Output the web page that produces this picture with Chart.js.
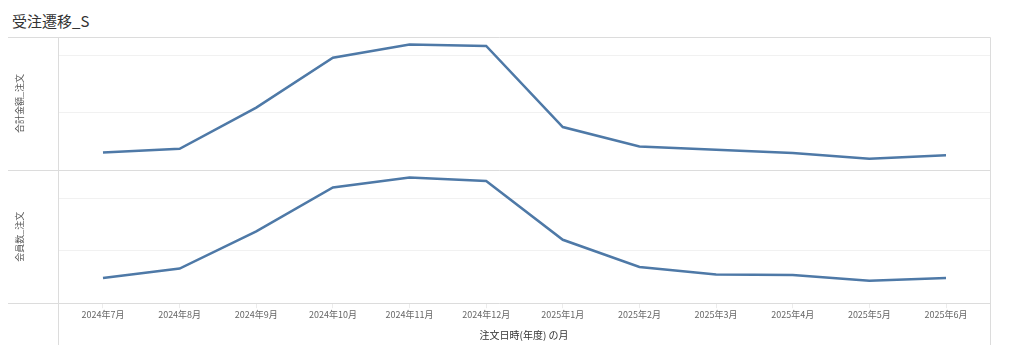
<!DOCTYPE html>
<html>
<head>
<meta charset="utf-8">
<script src="https://cdn.jsdelivr.net/npm/chart.js@4.4.1/dist/chart.umd.min.js"></script>
<style>
    body { margin: 0; background: #fff; }
    #wrap { position: relative; width: 1024px; height: 353px; }
    #title {
        position: absolute; left: 12px; top: 10px;
        font-family: "Noto Sans CJK JP", "Noto Sans", sans-serif;
        font-size: 15px; color: #333;
    }
    canvas { position: absolute; left: 0; top: 0; }
</style>
</head>
<body>
<div id="wrap">
    <div id="title">受注遷移_S</div>
    <canvas id="chart" width="1024" height="353"></canvas>
</div>
<script>
const months = ['2024年7月', '2024年8月', '2024年9月', '2024年10月', '2024年11月', '2024年12月',
    '2025年1月', '2025年2月', '2025年3月', '2025年4月', '2025年5月', '2025年6月'];
const salesTotal = [305, 370, 1090, 1960, 2190, 2165, 750, 410, 355, 300, 200, 260];
const memberCount = [48, 66, 137, 221, 240, 233, 121, 69, 55, 54, 43, 48];
const salesTicks = [0, 1000, 2000];
const countTicks = [0, 100, 200];

const FONT = '"Noto Sans CJK JP", "Noto Sans", sans-serif';
const LINE = '#4e79a7';
const FRAME = '#dcdcdc';
const GRID = '#f1f1f1';

// frame lines of the panels (row header lines run out to the left edge)
const framePlugin = {
    id: 'frame',
    beforeDatasetsDraw(chart) {
        const {ctx, chartArea} = chart;
        const mid = Math.round(chart.scales.ySales.bottom) + 0.5;
        const top = Math.round(chartArea.top) + 0.5;
        const bottom = Math.round(chartArea.bottom) + 0.5;
        const left = Math.round(chartArea.left) + 0.5;
        const right = Math.round(chartArea.right) + 0.5;
        ctx.save();
        ctx.strokeStyle = FRAME;
        ctx.lineWidth = 1;
        ctx.beginPath();
        [top, mid, bottom].forEach(y => {
            ctx.moveTo(8, y);
            ctx.lineTo(right, y);
        });
        ctx.moveTo(left, top);
        ctx.lineTo(left, 345);
        ctx.moveTo(right, top);
        ctx.lineTo(right, 345);
        ctx.stroke();
        ctx.restore();
    }
};

function points(values) {
    return values.map((v, i) => ({x: i, y: v}));
}

function yAxis(title, max, ticks, weight) {
    return {
        type: 'linear',
        position: 'left',
        stack: 'panels',
        weight: weight,
        min: 0,
        max: max,
        afterBuildTicks: axis => { axis.ticks = ticks.map(v => ({value: v})); },
        ticks: {display: false},
        border: {display: false},
        grid: {
            drawTicks: false,
            color: c => c.tick.value === 0 ? 'transparent' : GRID
        },
        title: {
            display: true,
            text: title,
            color: '#555',
            font: {family: FONT, size: 9},
            padding: {top: 14.6, bottom: 32.6}
        }
    };
}

new Chart(document.getElementById('chart'), {
    type: 'line',
    data: {
        datasets: [{
            label: '合計金額_注文',
            data: points(salesTotal),
            yAxisID: 'ySales',
            borderColor: LINE,
            borderWidth: 2.5,
            pointRadius: 0,
            tension: 0
        }, {
            label: '会員数_注文',
            data: points(memberCount),
            yAxisID: 'yCount',
            borderColor: LINE,
            borderWidth: 2.5,
            pointRadius: 0,
            tension: 0
        }]
    },
    options: {
        responsive: false,
        animation: false,
        layout: {padding: {top: 37, right: 34, left: 0, bottom: 8}},
        plugins: {
            legend: {display: false},
            tooltip: {enabled: false}
        },
        scales: {
            x: {
                type: 'linear',
                min: -0.587,
                max: 11.574,
                afterBuildTicks: axis => { axis.ticks = months.map((m, i) => ({value: i})); },
                ticks: {
                    callback: v => months[v],
                    color: '#666',
                    font: {family: FONT, size: 9},
                    padding: 1,
                    maxRotation: 0,
                    autoSkip: false
                },
                border: {display: false},
                grid: {
                    drawOnChartArea: false,
                    drawTicks: true,
                    tickLength: 5,
                    color: '#ececec'
                },
                title: {
                    display: true,
                    text: '注文日時(年度) の月',
                    color: '#333',
                    font: {family: FONT, size: 10},
                    padding: {top: 8, bottom: 4}
                }
            },
            yCount: yAxis('会員数_注文', 254, countTicks, 1),
            ySales: yAxis('合計金額_注文', 2320, salesTicks, 2)
        }
    },
    plugins: [framePlugin]
});
</script>
</body>
</html>
